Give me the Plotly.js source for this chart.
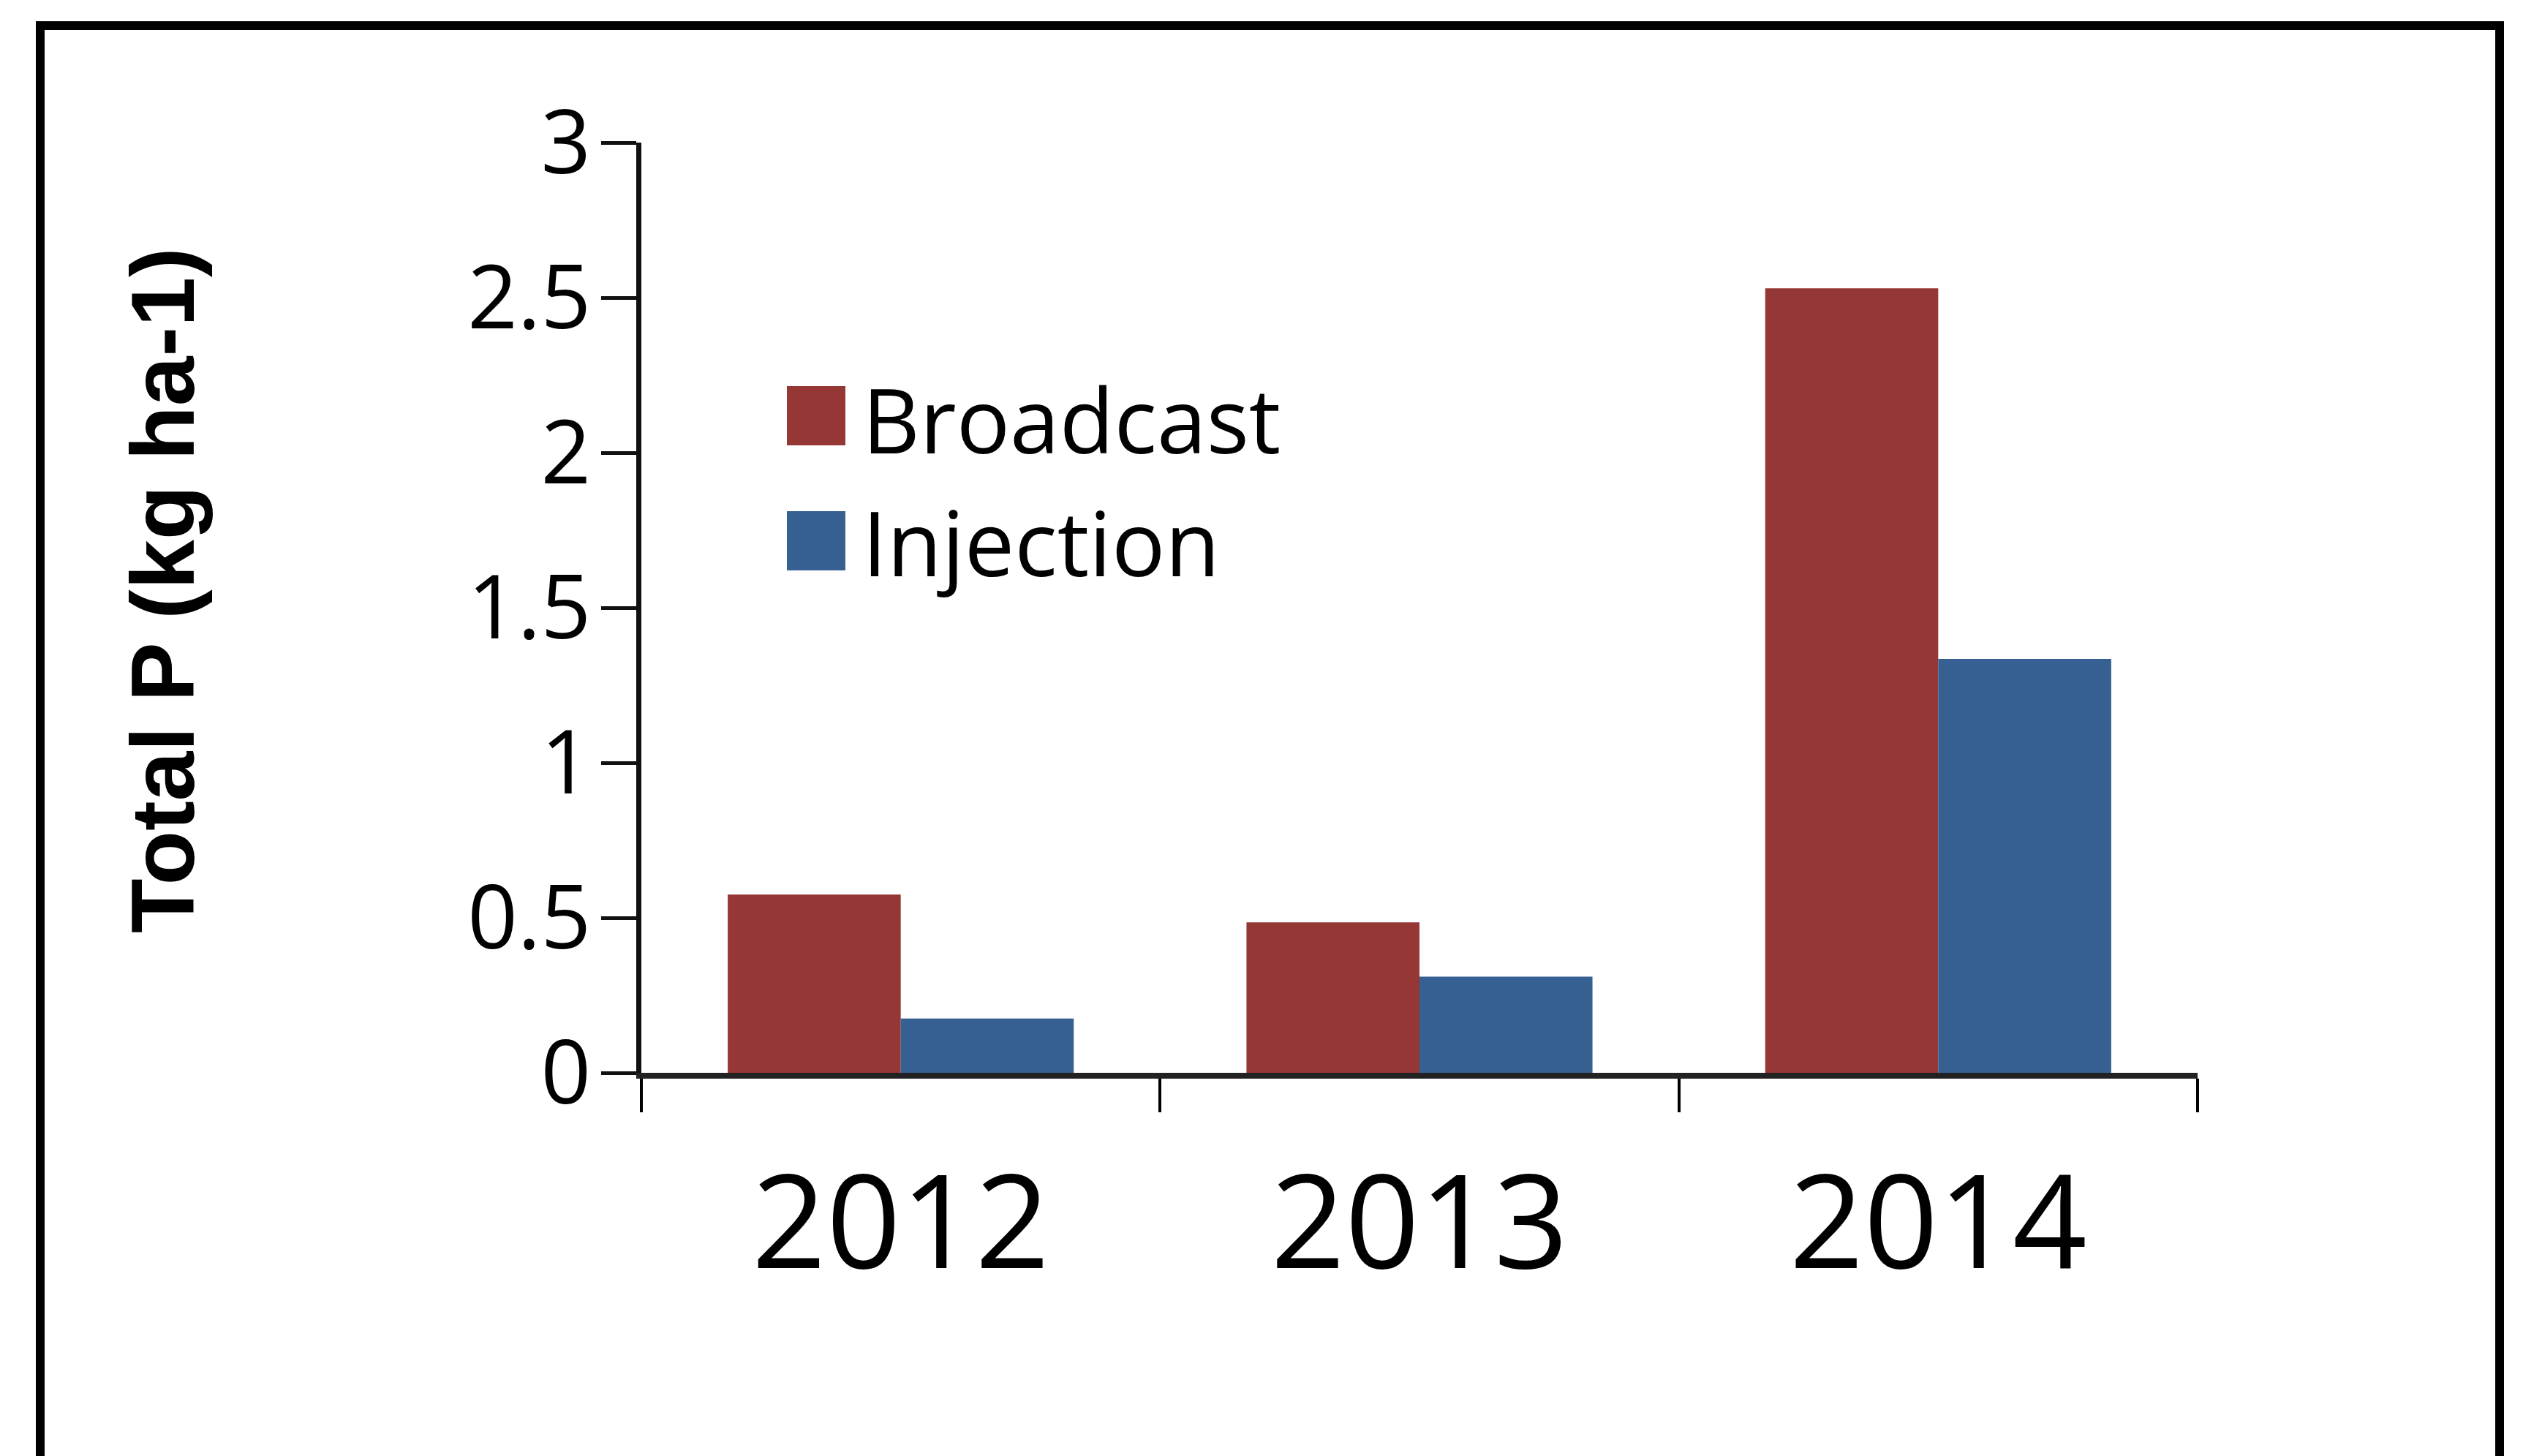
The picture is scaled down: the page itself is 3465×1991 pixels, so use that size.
<!DOCTYPE html>
<html>
<head>
<meta charset="utf-8">
<script src="https://cdn.plot.ly/plotly-3.0.1.min.js"></script>
<style>
html, body { margin: 0; padding: 0; background: #ffffff; }
#chart { width: 3465px; height: 1991px; }
</style>
</head>
<body>
<div id="chart"></div>
<script>
// ---- data ----
const years = ['2012', '2013', '2014'];
const broadcast = [0.575, 0.485, 2.53];
const injection = [0.175, 0.31, 1.335];
const seriesNames = ['Broadcast', 'Injection'];
const yTickVals = [0, 0.5, 1, 1.5, 2, 2.5, 3];
const yTickText = ['0', '0.5', '1', '1.5', '2', '2.5', '3'];
const yTitle = 'Total P (kg ha-1)';

// ---- styling ----
const colors = ['#953735', '#366092'];
const W = 3465, H = 1991;
const L = 877, R = 3005, T = 195, B = 1467;
const px = v => (v - L) / (R - L);
const py = v => (B - v) / (B - T);

const traces = [
  { type: 'bar', name: seriesNames[0], x: years, y: broadcast,
    marker: { color: colors[0], line: { width: 0 } }, showlegend: false },
  { type: 'bar', name: seriesNames[1], x: years, y: injection,
    marker: { color: colors[1], line: { width: 0 } }, showlegend: false }
];

const frameW = 12;
const shapes = [
  // outer frame (left, top, right; open at bottom)
  { type: 'line', xref: 'paper', yref: 'paper', x0: px(55), x1: px(55), y0: py(29), y1: py(2010), line: { color: '#000', width: frameW } },
  { type: 'line', xref: 'paper', yref: 'paper', x0: px(49), x1: px(3424), y0: py(35), y1: py(35), line: { color: '#000', width: frameW } },
  { type: 'line', xref: 'paper', yref: 'paper', x0: px(3418), x1: px(3418), y0: py(29), y1: py(2010), line: { color: '#000', width: frameW } },
  // legend swatches
  { type: 'rect', xref: 'paper', yref: 'paper', x0: px(1076), x1: px(1156), y0: py(609), y1: py(528), fillcolor: colors[0], line: { width: 0 } },
  { type: 'rect', xref: 'paper', yref: 'paper', x0: px(1076), x1: px(1156), y0: py(780), y1: py(699), fillcolor: colors[1], line: { width: 0 } }
];

const legFont = { family: "'Open Sans', sans-serif", size: 122, color: '#000' };
const annotations = [
  { xref: 'paper', yref: 'paper', x: px(1177), y: py(573), xanchor: 'left', yanchor: 'middle', showarrow: false, text: seriesNames[0], font: legFont },
  { xref: 'paper', yref: 'paper', x: px(1177), y: py(741), xanchor: 'left', yanchor: 'middle', showarrow: false, text: seriesNames[1], font: legFont },
  // y-axis title
  { xref: 'paper', yref: 'paper', x: px(223), y: py(807), xanchor: 'center', yanchor: 'middle', textangle: -90, showarrow: false,
    text: yTitle, font: { family: "'Liberation Sans', Arial, sans-serif", size: 122, color: '#000', weight: 'bold' } }
];

const layout = {
  width: W, height: H,
  margin: { l: L, r: W - R, t: T, b: H - B, pad: 0 },
  paper_bgcolor: '#ffffff', plot_bgcolor: '#ffffff',
  barmode: 'group', bargap: 0.333, bargroupgap: 0,
  showlegend: false,
  xaxis: {
    type: 'category', range: [-0.5, 2.5], autorange: false,
    tickson: 'boundaries', ticks: 'outside', ticklen: 46, tickwidth: 4, tickcolor: '#000',
    showline: true, linewidth: 8, linecolor: '#222',
    showgrid: false, zeroline: false,
    tickfont: { family: "'Open Sans', sans-serif", size: 178, color: '#000' },
    ticklabelstandoff: 45, automargin: false
  },
  yaxis: {
    range: [0, 3], autorange: false,
    tickmode: 'array', tickvals: yTickVals, ticktext: yTickText,
    ticks: 'outside', ticklen: 48, tickwidth: 5, tickcolor: '#111',
    showline: true, linewidth: 7, linecolor: '#111',
    showgrid: false, zeroline: false,
    tickfont: { family: "'Open Sans', sans-serif", size: 120, color: '#000' },
    ticklabelstandoff: -10, automargin: false
  },
  shapes: shapes,
  annotations: annotations
};

Plotly.newPlot('chart', traces, layout, { staticPlot: true, displayModeBar: false });
</script>
</body>
</html>
